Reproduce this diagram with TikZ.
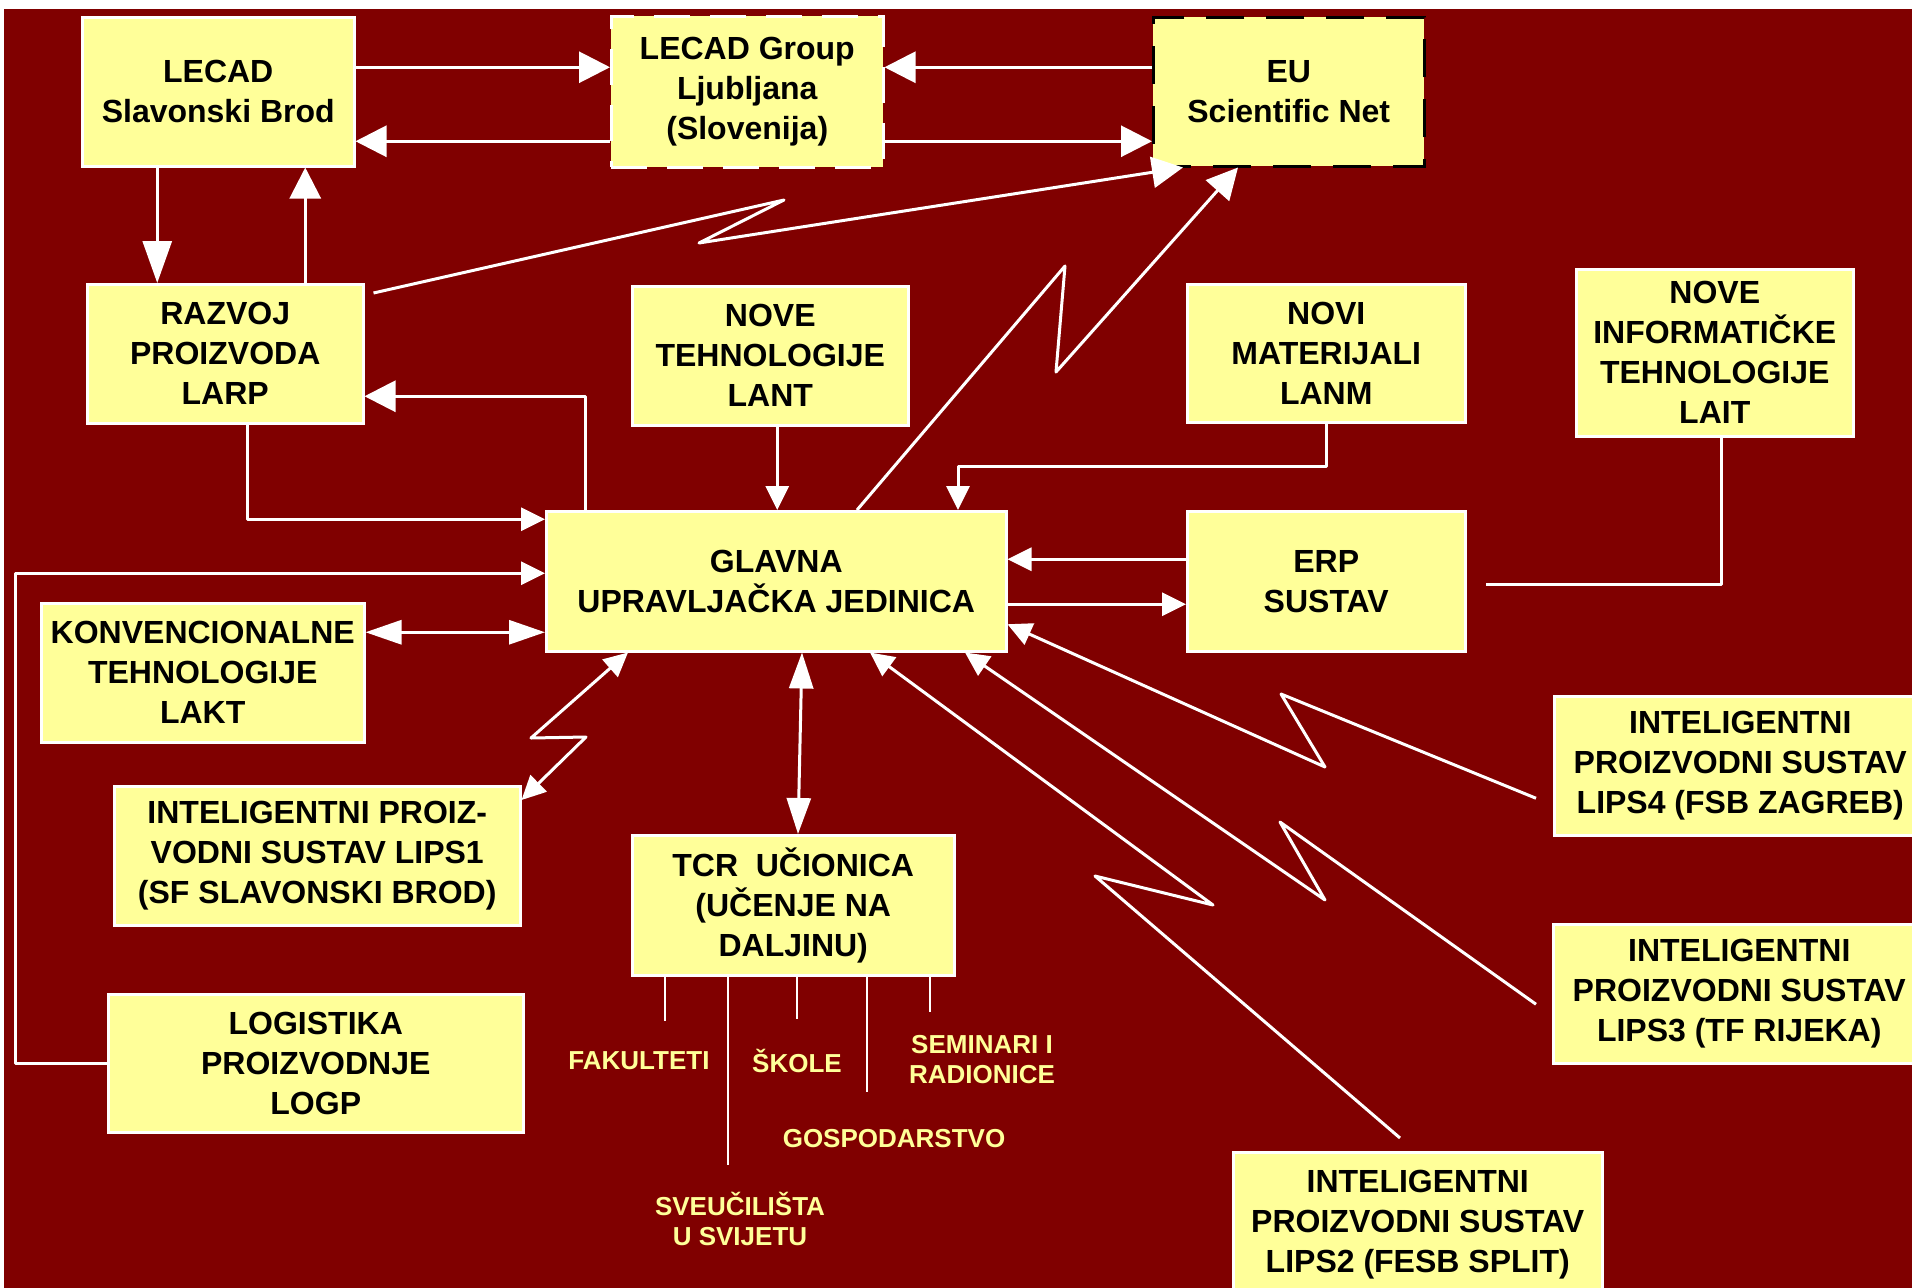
\documentclass[tikz,border=0pt]{standalone}
\usepackage{fontspec}
\setmainfont{Liberation Sans}
\usetikzlibrary{arrows.meta}
\definecolor{bgred}{HTML}{800000}
\definecolor{boxyellow}{HTML}{FFFF99}

\begin{document}
\begin{tikzpicture}[x=1pt,y=-1pt,
  box/.style={draw=white,line width=2.5pt,fill=boxyellow,anchor=north west,inner sep=0pt,align=center,font=\fontsize{32}{40}\selectfont\bfseries},
  link/.style={draw=white,line width=3pt,line join=round},
  thinlink/.style={draw=white,line width=2.5pt},
  lbl/.style={text=boxyellow,align=center,font=\fontsize{26}{30}\selectfont\bfseries},
  bigtip/.tip={Triangle[length=31pt,width=31pt]},
  smalltip/.tip={Triangle[length=24pt,width=23pt]},
  longtip/.tip={Triangle[length=36pt,width=24pt]},
  droptip/.tip={Triangle[length=42pt,width=29pt]}]
\useasboundingbox (0,0) rectangle (1912,1288);
\fill[white] (0,0) rectangle (1912,1288);
\fill[bgred] (4,9) rectangle (1912,1288);

% boxes
\node[box,minimum width=272pt,minimum height=149pt] (sb) at (81,16) {LECAD\\Slavonski Brod};
\node[box,dash pattern=on 36pt off 20pt,minimum width=272pt,minimum height=151pt] (group) at (610,15) {LECAD Group\\Ljubljana\\(Slovenija)};
\node[box,draw=black,dash pattern=on 38pt off 22pt,minimum width=271pt,minimum height=149pt] (eu) at (1152,16) {EU\\Scientific Net};
\node[box,minimum width=276pt,minimum height=139pt] (razvoj) at (86,283) {RAZVOJ\\PROIZVODA\\LARP};
\node[box,minimum width=276pt,minimum height=139pt] (lant) at (631,285) {NOVE\\TEHNOLOGIJE\\LANT};
\node[box,minimum width=278pt,minimum height=138pt] (lanm) at (1186,283) {NOVI\\MATERIJALI\\LANM};
\node[box,minimum width=277pt,minimum height=167pt] (lait) at (1575,268) {NOVE\\INFORMATIČKE\\TEHNOLOGIJE\\LAIT};
\node[box,minimum width=460pt,minimum height=140pt] (glavna) at (545,510) {GLAVNA\\UPRAVLJAČKA JEDINICA};
\node[box,minimum width=278pt,minimum height=140pt] (erp) at (1186,510) {ERP\\SUSTAV};
\node[box,minimum width=323pt,minimum height=139pt] (lakt) at (40,602) {KONVENCIONALNE\\TEHNOLOGIJE\\LAKT};
\node[box,minimum width=406pt,minimum height=139pt] (lips1) at (113,785) {INTELIGENTNI PROIZ-\\VODNI SUSTAV LIPS1\\(SF SLAVONSKI BROD)};
\node[box,minimum width=322pt,minimum height=140pt] (tcr) at (631,834) {TCR~~UČIONICA\\(UČENJE NA\\DALJINU)};
\node[box,minimum width=415pt,minimum height=138pt] (logp) at (107,993) {LOGISTIKA\\PROIZVODNJE\\LOGP};
\node[box,minimum width=372pt,minimum height=139pt] (lips4) at (1553,695) {INTELIGENTNI\\PROIZVODNI SUSTAV\\LIPS4 (FSB ZAGREB)};
\node[box,minimum width=372pt,minimum height=139pt] (lips3) at (1552,923) {INTELIGENTNI\\PROIZVODNI SUSTAV\\LIPS3 (TF RIJEKA)};
\node[box,minimum width=369pt,minimum height=145pt] (lips2) at (1232,1151) {INTELIGENTNI\\PROIZVODNI SUSTAV\\LIPS2 (FESB SPLIT)};

% labels under TCR
\node[lbl] (fakulteti) at (639,1061) {FAKULTETI};
\node[lbl] (skole) at (797,1061) {ŠKOLE};
\node[lbl] (seminari) at (982,1060) {SEMINARI I\\RADIONICE};
\node[lbl] (gospodarstvo) at (894,1139) {GOSPODARSTVO};
\node[lbl] (sveucilista) at (740,1219) {SVEUČILIŠTA\\U SVIJETU};

% top row
\draw[link,-bigtip] ([yshift=24.5pt]sb.east) -- ([yshift=24.5pt]group.west);
\draw[link,-bigtip] ([yshift=-49.5pt]group.west) -- ([yshift=-49.5pt]sb.east);
\draw[link,-bigtip] ([yshift=24.5pt]eu.west) -- ([yshift=24.5pt]group.east);
\draw[link,-bigtip] ([yshift=-49.5pt]group.east) -- ([yshift=-49.5pt]eu.west);
\draw[link,-droptip] ([xshift=-61pt]sb.south) -- ([xshift=-61pt]sb.south |- razvoj.north);
\draw[link,-bigtip] ([xshift=80pt]razvoj.north) -- ([xshift=80pt]razvoj.north |- sb.south);
\draw[link,-bigtip] ([xshift=9pt,yshift=-10pt]razvoj.north east) -- (784,200) -- (699,243) -- ([xshift=31pt]eu.south west);
\draw[link,-bigtip] ([xshift=312pt]glavna.north west) -- (1065,266) -- (1056,372) -- ([xshift=86pt]eu.south west);

% into and out of the main unit
\draw[link,-smalltip] ([xshift=7pt]lant.south) -- ([xshift=7pt]lant.south |- glavna.north);
\draw[link,-smalltip] ([xshift=22pt]razvoj.south) |- ([yshift=62pt]glavna.west);
\draw[link,-bigtip] ([xshift=40pt]glavna.north west) |- ([yshift=-42.5pt]razvoj.east);
\draw[link,-smalltip] (lanm.south) -- ++(0,43) -| ([xshift=413pt]glavna.north west);
\draw[link] ([xshift=6.5pt]lait.south) |- ([xshift=19pt,yshift=-3pt]erp.east);
\draw[link,-smalltip] ([yshift=22pt]erp.west) -- ([yshift=22pt]glavna.east);
\draw[link,-smalltip] ([yshift=-23pt]glavna.east) -- ([yshift=-23pt]erp.west);
\draw[link,-smalltip] (logp.west) -- ++(-92,0) |- ([yshift=8pt]glavna.west);
\draw[link,longtip-longtip] ([yshift=-51pt]glavna.west) -- ([yshift=-51pt]glavna.west -| lakt.east);
\draw[link,smalltip-smalltip] ([xshift=83pt]glavna.south west) -- (531,738) -- (586,737) -- ([yshift=-15pt]lips1.north east);
\draw[link,longtip-longtip] ([xshift=257pt]glavna.south west) -- ([xshift=167pt]tcr.north west);

% lips zigzags
\draw[link,-smalltip] ([xshift=-17pt,yshift=-32.5pt]lips4.west) -- (1281,694) -- (1325,767) -- ([yshift=-43pt]glavna.east);
\draw[link,-smalltip] ([xshift=-16pt,yshift=-10.5pt]lips3.west) -- (1280,822) -- (1325,900) -- ([xshift=420pt]glavna.south west);
\draw[link,-smalltip] ([xshift=168pt,yshift=13pt]lips2.north west) -- (1095,876) -- (1213,905) -- ([xshift=325pt]glavna.south west);

% lines under TCR
\foreach \dx/\len in {34/44, 97/188, 166/42, 236/115, 299/35}
  \draw[thinlink] ([xshift=\dx pt]tcr.south west) -- +(0,\len);
\end{tikzpicture}
\end{document}
